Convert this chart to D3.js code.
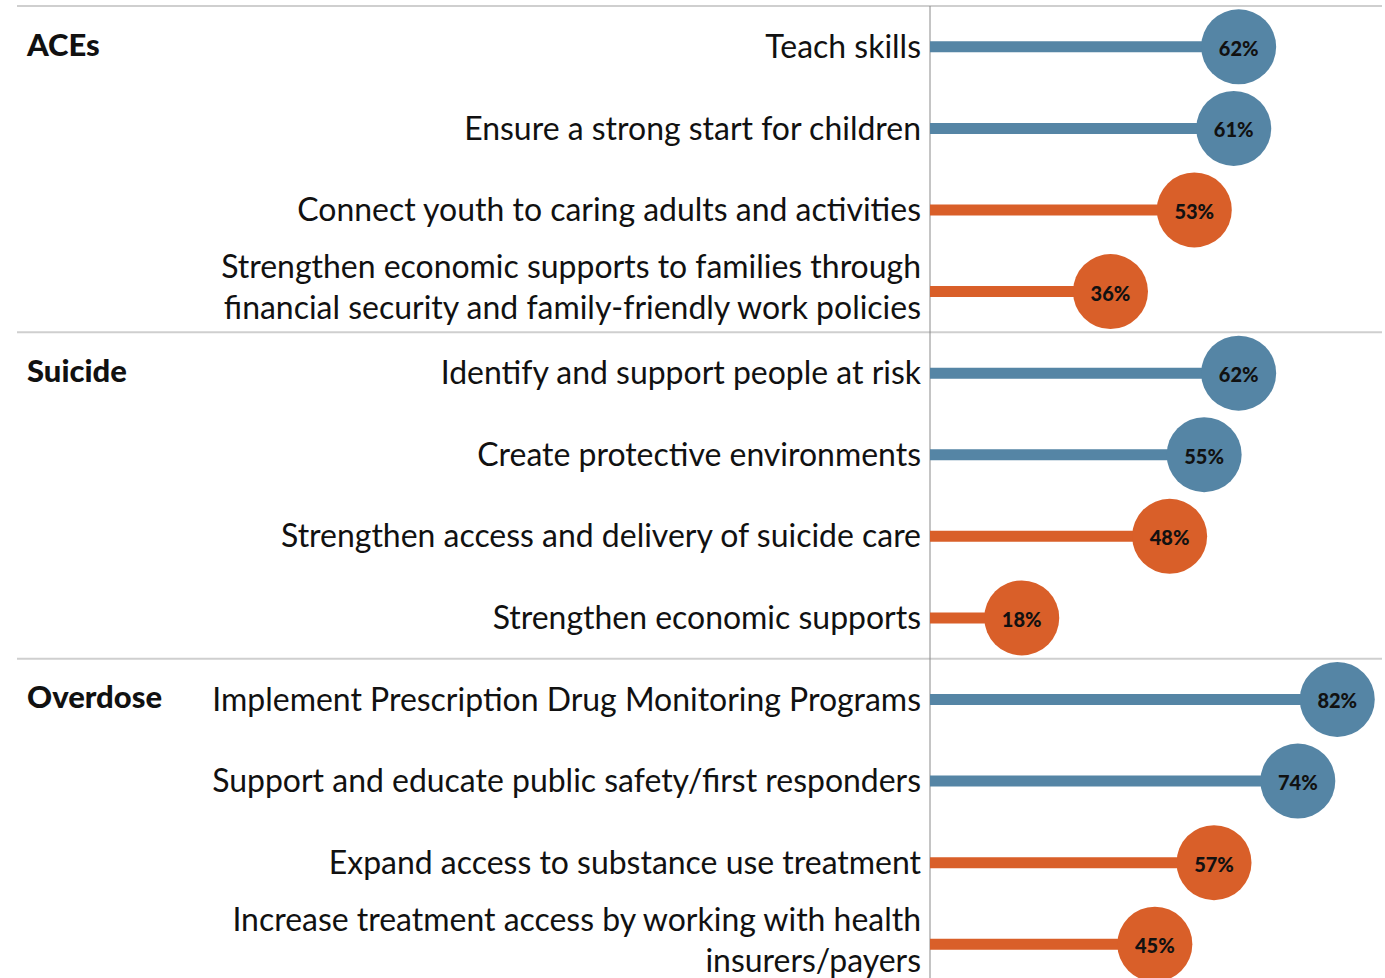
<!DOCTYPE html>
<html>
<head>
<meta charset="utf-8">
<script src="https://cdn.jsdelivr.net/npm/d3@7"></script>
<style>
  body { margin: 0; background: #fff; }
  svg { display: block; }
</style>
</head>
<body>
<div id="chart"></div>
<script>
const width = 1385, height = 978
const blue = "#5585a5", orange = "#d95f29"

// data
const groups = ["ACEs", "Suicide", "Overdose"]
const labels = [
    ["Teach skills"],
    ["Ensure a strong start for children"],
    ["Connect youth to caring adults and activities"],
    ["Strengthen economic supports to families through", "financial security and family-friendly work policies"],
    ["Identify and support people at risk"],
    ["Create protective environments"],
    ["Strengthen access and delivery of suicide care"],
    ["Strengthen economic supports"],
    ["Implement Prescription Drug Monitoring Programs"],
    ["Support and educate public safety/first responders"],
    ["Expand access to substance use treatment"],
    ["Increase treatment access by working with health", "insurers/payers"]
]
const values = [62, 61, 53, 36, 62, 55, 48, 18, 82, 74, 57, 45]
const top2 = [true, true, false, false, true, true, false, false, true, true, false, false]
const groupOf = [0, 0, 0, 0, 1, 1, 1, 1, 2, 2, 2, 2]

const rows = labels.map((l, i) => ({
    i: i, lines: l, value: values[i], top: top2[i], group: groupOf[i]
}))

const x = d3.scaleLinear().domain([0, 100]).range([933, 1426])
const y = d3.scaleBand().domain(d3.range(rows.length)).range([6, 985])
const axisX = 930, labelRight = 921

const svg = d3.select("#chart").append("svg")
    .attr("width", width)
    .attr("height", height)

// separators
const seps = [0, 4, 8].map(i => y(i))
svg.selectAll("line.sep")
    .data(seps)
    .enter().append("line")
    .attr("class", "sep")
    .attr("x1", 17).attr("x2", width - 3)
    .attr("y1", d => d).attr("y2", d => d)
    .attr("stroke", "#cfcfcf")
    .attr("stroke-width", 2)

svg.append("line")
    .attr("x1", axisX).attr("x2", axisX)
    .attr("y1", y(0)).attr("y2", height)
    .attr("stroke", "#8a8a8a")
    .attr("stroke-width", 1)

const font = "Lato, 'Open Sans', sans-serif"

// group titles
svg.selectAll("text.group")
    .data(groups)
    .enter().append("text")
    .attr("class", "group")
    .attr("x", 27)
    .attr("y", (d, i) => y(i * 4) + y.bandwidth() / 2 - 2)
    .attr("dy", "0.35em")
    .attr("font-family", font)
    .attr("font-weight", 900)
    .attr("font-size", 31)
    .attr("fill", "#111")
    .text(d => d)

const row = svg.selectAll("g.row")
    .data(rows)
    .enter().append("g")
    .attr("class", "row")
    .attr("transform", d => "translate(0," + (y(d.i) + y.bandwidth() / 2) + ")")

const lbl = row.append("text")
    .attr("class", "lbl")
    .attr("text-anchor", "end")
    .attr("font-family", font)
    .attr("font-size", 30)
    .attr("fill", "#111")

lbl.selectAll("tspan")
    .data(d => d.lines.map((s, k) => ({s: s, k: k, n: d.lines.length})))
    .enter().append("tspan")
    .attr("x", labelRight)
    .attr("y", d => (d.k - (d.n - 1) / 2) * 41 - (d.n > 1 ? 4 : 0))
    .attr("dy", "0.35em")
    .text(d => d.s)

// fit label size to the widest label (~709px in the reference)
let widest = 0
lbl.selectAll("tspan").each(function () {
    widest = Math.max(widest, this.getComputedTextLength())
})
lbl.attr("font-size", 30 * 709 / widest)

row.append("line")
    .attr("x1", axisX)
    .attr("x2", d => x(d.value))
    .attr("stroke", d => d.top ? blue : orange)
    .attr("stroke-width", 11)

row.append("circle")
    .attr("cx", d => x(d.value))
    .attr("r", 37.5)
    .attr("fill", d => d.top ? blue : orange)

row.append("text")
    .attr("x", d => x(d.value))
    .attr("y", 2)
    .attr("dy", "0.35em")
    .attr("text-anchor", "middle")
    .attr("font-family", font)
    .attr("font-weight", 900)
    .attr("font-size", 20)
    .attr("fill", "#111")
    .text(d => d.value + "%")
</script>
</body>
</html>
